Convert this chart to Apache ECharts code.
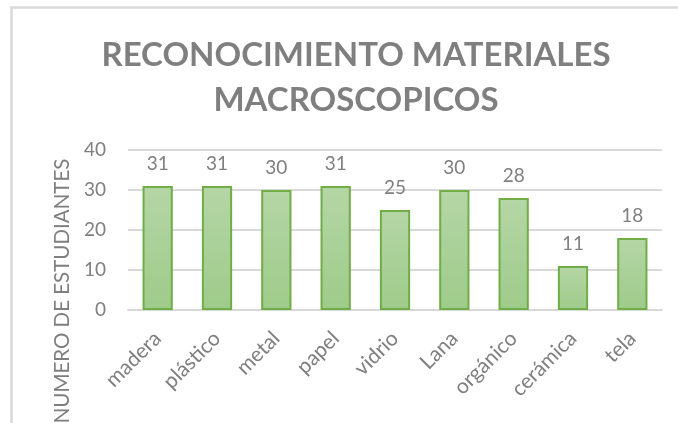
<!DOCTYPE html>
<html>
<head>
<meta charset="utf-8">
<script src="https://cdn.jsdelivr.net/npm/echarts@6/dist/echarts.min.js"></script>
<style>
html,body{margin:0;padding:0;background:#fff;}
#chart{width:678px;height:423px;}
</style>
</head>
<body>
<div id="chart"></div>
<script>
const categories = ['madera','plástico','metal','papel','vidrio','Lana','orgánico','cerámica','tela'];
const values = [31,31,30,31,25,30,28,11,18];
const titleLines = ['RECONOCIMIENTO MATERIALES','MACROSCOPICOS'];
const yAxisTitle = 'NUMERO DE ESTUDIANTES';

const gray = '#7f7f7f';
const font = 'Lato, "Open Sans", sans-serif';
const chart = echarts.init(document.getElementById('chart'), null, {renderer:'canvas'});
chart.setOption({
  animation: false,
  backgroundColor: '#fff',
  graphic: [{
    type: 'rect', left: 9, top: 5, silent: true,
    shape: {width: 720, height: 460},
    style: {fill: 'none', stroke: '#d9d9d9', lineWidth: 2.5}
  }],
  title: {
    text: titleLines.join('\n'),
    left: 351, textAlign: 'center', top: 28,
    textStyle: {fontFamily: font, fontWeight: 'bold', fontSize: 33, color: gray, lineHeight: 45, align: 'center'}
  },
  grid: {left: 128, right: 16, top: 150, bottom: 113, containLabel: false, outerBoundsMode: 'none'},
  xAxis: {
    type: 'category', data: categories,
    axisLine: {lineStyle: {color: '#d9d9d9', width: 2}},
    axisTick: {show: false},
    axisLabel: {rotate: 45, margin: 25, fontFamily: font, fontSize: 21, color: gray, interval: 0}
  },
  yAxis: {
    type: 'value', min: 0, max: 40, interval: 10,
    name: yAxisTitle, nameLocation: 'middle', nameGap: 54, nameRotate: 90,
    nameTextStyle: {fontFamily: font, fontSize: 20.5, color: gray, padding: [0, 122, 0, 0]},
    axisLine: {show: false}, axisTick: {show: false},
    axisLabel: {fontFamily: font, fontSize: 19, color: gray, margin: 22},
    splitLine: {lineStyle: {color: '#d9d9d9', width: 2}}
  },
  series: [{
    type: 'bar', data: values, barWidth: '51%',
    itemStyle: {
      color: new echarts.graphic.LinearGradient(0,0,0,1,[{offset:0,color:'#b5d6a6'},{offset:1,color:'#9ecb8a'}]),
      borderColor: '#70ad47', borderWidth: 2
    },
    label: {show: true, position: 'top', distance: 13, fontFamily: font, fontSize: 19, color: gray}
  }]
});
</script>
</body>
</html>
